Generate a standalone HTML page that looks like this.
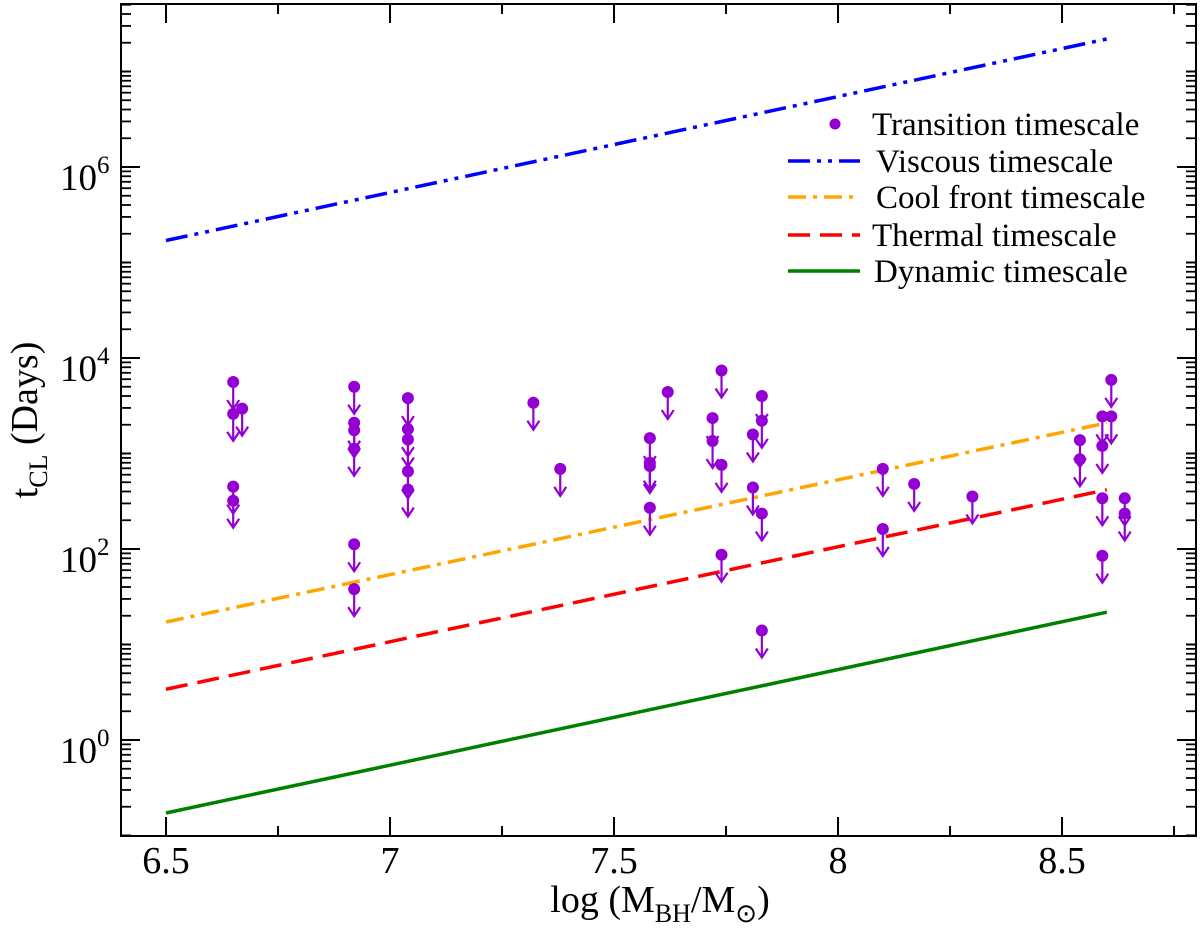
<!DOCTYPE html>
<html><head><meta charset="utf-8"><style>
body{margin:0;background:#fff}
svg{display:block;font-family:"Liberation Serif",serif}
</style></head><body>
<svg id="chart" width="1200" height="932" viewBox="0 0 1200 932">
<g id="plot"></g>
</svg>
<script>
// data
const massLog = [6.65,6.65,6.65,6.65,6.67,6.92,6.92,6.92,6.92,6.92,6.92,7.04,7.04,7.04,7.04,7.04,7.32,7.38,7.58,7.58,7.58,7.58,7.62,7.72,7.72,7.74,7.74,7.74,7.81,7.81,7.83,7.83,7.83,7.83,8.10,8.10,8.17,8.30,8.54,8.54,8.59,8.59,8.59,8.59,8.61,8.61,8.64,8.64];
const daysTransition = [5600,2600,450,320,2950,5000,2100,1750,1120,112,38,3800,1800,1400,650,420,3400,690,1450,800,740,270,4400,2350,1350,7400,760,87,1580,440,4000,2200,235,14,690,162,480,355,1380,870,2450,1200,340,85,5900,2450,340,235];
const lineMass = [6.5, 8.6];
const viscous = [170000, 21900000];
const coolFront = [17.2, 2090];
const thermal = [3.4, 417];
const dynamic = [0.172, 21.8];
const xTicks = [6.5,7,7.5,8,8.5];
const xTickLabels = ["6.5","7","7.5","8","8.5"];
const yTicks = [0,2,4,6];

const L=121,R=1196,T=4,B=836;
const X=v=>166+(v-6.5)*448;
const Y=d=>740-Math.log10(d)*95.5;
const YL=l=>740-l*95.5;
const NS="http://www.w3.org/2000/svg";
const g=document.getElementById('plot');
function mk(tag,attrs,parent){const e=document.createElementNS(NS,tag);for(const k in attrs)e.setAttribute(k,attrs[k]);(parent||g).appendChild(e);return e;}

// series lines
const series=[[viscous,"#0000ff","22 7 4 7 4 7","viscous-line"],[coolFront,"#ffa500","18 7 4 7","cool-front-line"],[thermal,"#ff0000","22 10","thermal-line"],[dynamic,"#008000","none","dynamic-line"]];
series.forEach(s=>{
  const p=mk('polyline',{points:lineMass.map((m,i)=>X(m)+","+Y(s[0][i])).join(" "),fill:"none",stroke:s[1],"stroke-width":3.5,"stroke-dasharray":s[2]});
  
  
});

// points
massLog.forEach((m,i)=>{
  const x=X(m),y=Y(daysTransition[i]);
  const grp=mk('g',{});
  
  
  mk('line',{x1:x,y1:y,x2:x,y2:y+26,stroke:"#9400d3","stroke-width":2.2},grp);
  mk('polyline',{points:(x-6)+","+(y+18)+" "+x+","+(y+27)+" "+(x+6)+","+(y+18),fill:"none",stroke:"#9400d3","stroke-width":2.2},grp);
  mk('circle',{cx:x,cy:y,r:6,fill:"#9400d3"},grp);
});

// axes frame
const fr=mk('rect',{x:L,y:T,width:R-L,height:B-T,fill:"none",stroke:"#000","stroke-width":2});



// x ticks
xTicks.forEach((v,i)=>{
  const x=X(v);
  mk('line',{x1:x,y1:B,x2:x,y2:B-19,stroke:"#000","stroke-width":2});
  mk('line',{x1:x,y1:T,x2:x,y2:T+19,stroke:"#000","stroke-width":2});
  const t=mk('text',{x:x,y:873,"font-size":38,"text-anchor":"middle"});
  t.textContent=xTickLabels[i];
  
  
});
for(let v=6.75;v<=8.8;v+=0.5){const x=X(v);
  mk('line',{x1:x,y1:B,x2:x,y2:B-10,stroke:"#000","stroke-width":2});
  mk('line',{x1:x,y1:T,x2:x,y2:T+10,stroke:"#000","stroke-width":2});}

// y ticks
for(let d=-2;d<=7;d++){
  const y=YL(d);
  if(y>=T&&y<=B){
    const major=yTicks.includes(d);
    mk('line',{x1:L,y1:y,x2:L+(major?19:10),y2:y,stroke:"#000","stroke-width":2});
    mk('line',{x1:R,y1:y,x2:R-(major?19:10),y2:y,stroke:"#000","stroke-width":2});
  }
  for(let k=2;k<=9;k++){const yy=YL(d+Math.log10(k));
    if(yy>=T&&yy<=B){mk('line',{x1:L,y1:yy,x2:L+10,y2:yy,stroke:"#000","stroke-width":1.8});
      mk('line',{x1:R,y1:yy,x2:R-10,y2:yy,stroke:"#000","stroke-width":1.8});}}
}
yTicks.forEach(d=>{
  const y=YL(d);
  const t=mk('text',{x:60,y:y+23,"font-size":37});
  t.textContent="10";
  const s=mk('tspan',{"font-size":25,dy:-17},t);s.textContent=String(d);
  
  
});

// axis titles
const xt=mk('text',{x:660,y:912,"font-size":38,"text-anchor":"middle"});
xt.innerHTML='log (M<tspan font-size="26" dy="10">BH</tspan><tspan dy="-10">/M</tspan><tspan font-size="26" dy="10">⊙</tspan><tspan dy="-10">)</tspan>';


const yt=mk('text',{transform:"translate(37,420) rotate(-90)","font-size":38,"text-anchor":"middle"});
yt.innerHTML='t<tspan font-size="26" dy="10">CL</tspan><tspan dy="-10"> (Days)</tspan>';



// legend
const leg=mk('g',{});


const legNames=["Transition timescale","Viscous timescale","Cool front timescale","Thermal timescale","Dynamic timescale"];
const legY=[124,161,197,235,271];
const legTx=[872,876,876,872,874];
mk('circle',{cx:835,cy:legY[0],r:5.5,fill:"#9400d3"},leg);
series.forEach((s,i)=>{
  mk('line',{x1:788,y1:legY[i+1],x2:860,y2:legY[i+1],stroke:s[1],"stroke-width":3.5,"stroke-dasharray":s[2]},leg);
});
legNames.forEach((n,i)=>{
  const t=mk('text',{x:legTx[i],y:legY[i]+11,"font-size":33},leg);
  t.textContent=n;
  
  
});
</script>
</body></html>
